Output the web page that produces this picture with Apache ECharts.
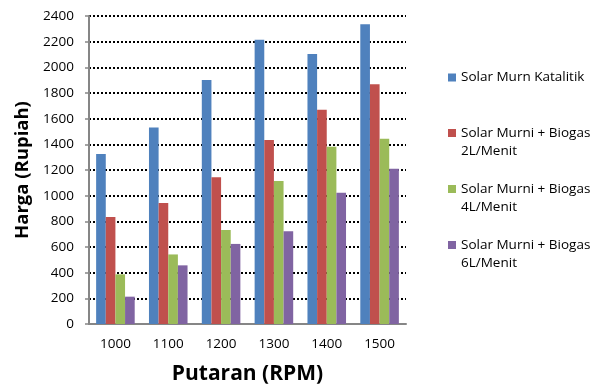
<!DOCTYPE html>
<html>
<head>
<meta charset="utf-8">
<script src="https://cdn.jsdelivr.net/npm/echarts@6/dist/echarts.min.js"></script>
<style>
  html, body { margin: 0; padding: 0; background: #fff; }
  #chart { width: 595px; height: 388px; }
</style>
</head>
<body>
<div id="chart"></div>
<script>
// Engine speed categories (RPM)
const categories = ['1000', '1100', '1200', '1300', '1400', '1500'];

// Fuel cost per configuration (Rupiah)
const solarKatalitik = [1325, 1532, 1902, 2214, 2104, 2335];
const biogas2L = [834, 943, 1143, 1434, 1670, 1868];
const biogas4L = [387, 542, 733, 1115, 1382, 1444];
const biogas6L = [213, 457, 624, 722, 1023, 1210];

const seriesNames = [
  'Solar Murn Katalitik',
  'Solar Murni + Biogas 2L/Menit',
  'Solar Murni + Biogas 4L/Menit',
  'Solar Murni + Biogas 6L/Menit'
];
const seriesValues = [solarKatalitik, biogas2L, biogas4L, biogas6L];
const colors = ['#4F81BD', '#C0504D', '#9BBB59', '#8064A2'];

const FONT = '"Open Sans", sans-serif';
const LINE_H = 18;
// centre line of the first text row of each legend entry
const legendRows = [77.5, 133, 189, 245];

const chart = echarts.init(document.getElementById('chart'), null, { renderer: 'canvas' });

// Wrapped entries get an empty leading row so the swatch sits beside the first text row
function legendText(n) {
  const m = n.match(/^(.*) (\dL\/Menit)$/);
  return m ? '\u00a0\n' + m[1] + '\n' + m[2] : n;
}

const legends = seriesNames.map((name, i) => {
  const rows = legendText(name).split('\n').length;
  return {
    data: [name],
    orient: 'vertical',
    left: 448,
    top: legendRows[i] - (rows * LINE_H) / 2,
    padding: 0,
    itemWidth: 8,
    itemHeight: 8,
    itemGap: 0,
    icon: 'rect',
    selectedMode: false,
    formatter: legendText,
    textStyle: { fontFamily: FONT, fontSize: 13.5, color: '#000', lineHeight: LINE_H }
  };
});

chart.setOption({
  animation: false,
  color: colors,
  legend: legends,
  grid: { left: 89, right: 189, top: 16, bottom: 64, containLabel: false, outerBoundsMode: 'none' },
  xAxis: {
    type: 'category',
    data: categories,
    name: 'Putaran (RPM)',
    nameLocation: 'middle',
    nameGap: 40,
    nameTextStyle: { fontFamily: FONT, fontSize: 21, fontWeight: 'bold', color: '#000' },
    axisLine: { lineStyle: { color: '#868686', width: 2 } },
    axisTick: { show: false },
    axisLabel: { fontFamily: FONT, fontSize: 13.5, color: '#000', margin: 13 }
  },
  yAxis: {
    type: 'value',
    min: 0,
    max: 2400,
    interval: 200,
    name: 'Harga (Rupiah)',
    nameLocation: 'middle',
    nameGap: 57,
    nameTextStyle: { fontFamily: FONT, fontSize: 18.5, fontWeight: 'bold', color: '#000' },
    axisLine: { show: true, lineStyle: { color: '#868686', width: 2 } },
    axisTick: { show: true, length: 4, lineStyle: { color: '#868686', width: 1.5 } },
    axisLabel: { fontFamily: FONT, fontSize: 13.5, color: '#000', margin: 15, formatter: v => String(v) },
    splitLine: { show: true, lineStyle: { color: '#000', width: 2, type: [2, 2] } }
  },
  series: seriesValues.map((vals, i) => ({
    name: seriesNames[i],
    type: 'bar',
    data: vals,
    barGap: '0%',
    barCategoryGap: '27%',
    itemStyle: { color: colors[i] }
  }))
});
</script>
</body>
</html>
